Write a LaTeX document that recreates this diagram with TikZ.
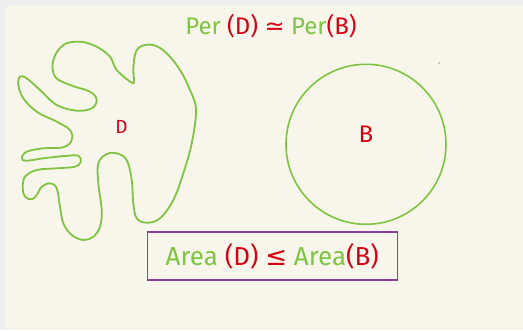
\documentclass[tikz,border=0pt]{standalone}
\usepackage{fontspec}
\setmainfont{Fira Sans}
\newfontfamily\symfont{DejaVu Sans}
\definecolor{cream}{RGB}{248,246,234}
\definecolor{edge}{RGB}{238,238,238}
\definecolor{lgreen}{RGB}{126,196,66}
\definecolor{hred}{RGB}{214,0,20}
\definecolor{purp}{RGB}{142,62,160}
\tikzset{
  outl/.style={draw=lgreen, line width=1.8pt},
  lbl/.style={text=hred, inner sep=0pt},
  eqn/.style={inner sep=0pt},
}
\newcommand{\gr}[1]{\textcolor{lgreen}{#1}}
\newcommand{\rd}[1]{\textcolor{hred}{#1}}
\begin{document}
\begin{tikzpicture}[x=1pt,y=-1pt]
\useasboundingbox (0,0) rectangle (523,330);
\fill[edge] (0,0) rectangle (523,330);
\fill[cream] (5.5,5.7) rectangle (523,330);
% blob D
\draw[outl] plot[smooth cycle, tension=0.6] coordinates {
(131.7,82.7)(116.7,70)(110,56.7)(96.7,46.7)(80,41.7)(63.3,45)(53.3,60)(55,76.7)
(70,85)(90,91.7)(96.7,100)(91.7,108.3)(76.7,110.7)(56.7,105)(40,90)(26.7,78.3)
(20,76.7)(18.3,85)(23.3,98.3)(36.7,111.7)(56.7,121.7)(70,130)(71.7,140)(63.3,147.3)
(43.3,148.3)(26.7,151.7)(21.7,158.3)(26.7,160.7)(43.3,158.3)(65,156)(78.3,155.7)
(80.7,161.7)(75,166.7)(56.7,168.3)(36.7,170)(25,176.7)(22.7,188.3)(25,196.7)
(31.7,199.3)(36.7,195)(41.7,186.7)(50,183.3)(56.7,188.3)(60,206.7)(63.3,223.3)
(71.7,235)(83.3,240)(93.3,236.7)(100,226.7)(101.7,210)(98.3,183.3)(98.3,163.3)
(106.7,154)(116.7,153.3)(126.7,160)(131.7,180)(133.3,203.3)(136.7,218.3)
(146.7,222.7)(160,218.3)(173.3,200)(183.3,173.3)(191.7,143.3)(196,110)(190,90)
(180,70)(166.7,53.3)(153.3,45)(140,46.7)(135,55)(133.3,70)(134,80)};
\node[lbl, font=\fontsize{19}{19}\selectfont] (dl) at (121.5,127) {D};
% circle B
\node[outl, line width=1.6pt, circle, minimum size=160pt, inner sep=0pt] (ball) at (366,144.3) {};
\node[lbl, font=\fontsize{24}{24}\selectfont] (bl) at (366,134) {B};
\fill[lgreen] (439,63) circle (0.9pt);
% title
\node[eqn, font=\fontsize{24}{24}\selectfont] (title) at (271,26) {\gr{Per} \rd{(D)} \rd{\symfont ≃} \gr{Per}\rd{(B)}};
% area box
\node[draw=purp, line width=1.4pt, minimum width=250pt, minimum height=48pt] (area) at (272.3,256) {};
\node[eqn, font=\fontsize{26}{26}\selectfont] (areatxt) at (area.center) {\gr{Area} \rd{(D)} \rd{\symfont ≤} \gr{Area}\rd{(B)}};
\end{tikzpicture}
\end{document}
